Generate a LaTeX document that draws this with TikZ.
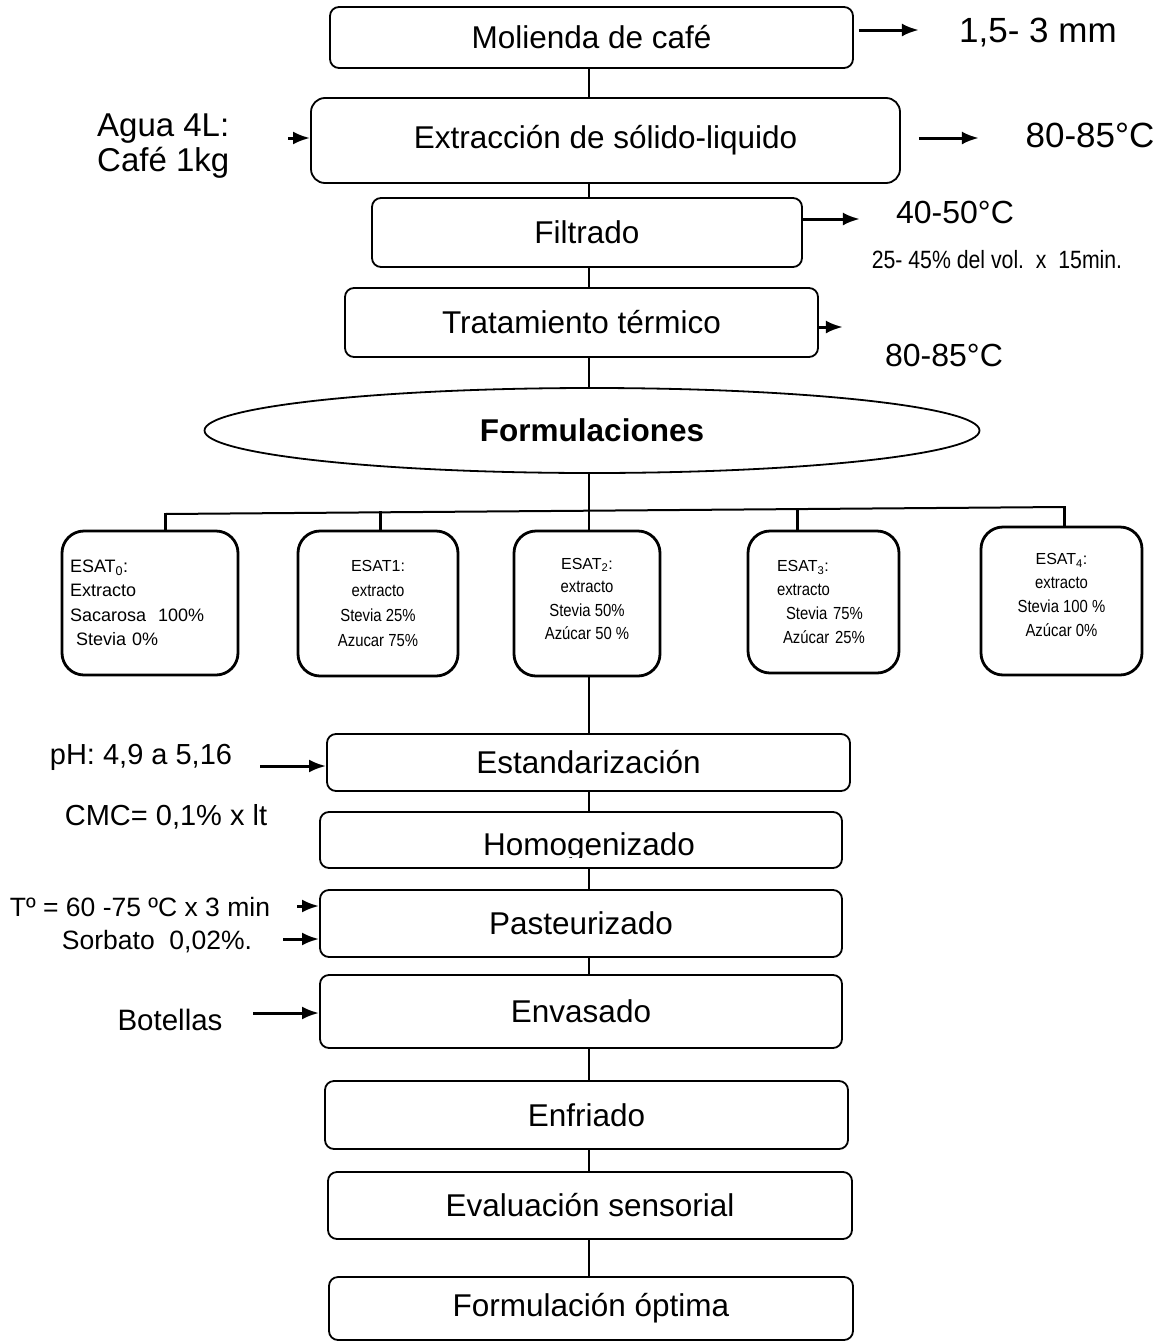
\documentclass[tikz,border=0pt]{standalone}
\usepackage{fontspec}
\setmainfont{Liberation Sans}
\newfontfamily\narrowfont[FakeStretch=0.85]{Liberation Sans}
\usetikzlibrary{shapes.geometric,arrows.meta}
\newcommand\fsz[2]{\fontsize{#1}{#2}\selectfont}
\begin{document}
\begin{tikzpicture}[x=1pt,y=-1pt,
  proc/.style={draw, rounded corners=9pt, line width=1.8pt, inner sep=0pt, font=\fsz{31.5}{36}},
  esat/.style={draw, rounded corners=22pt, line width=2.8pt, inner sep=0pt},
  link/.style={line width=1.2pt},
  drop/.style={line width=3pt},
  arr/.style={-{Latex[length=17pt,width=13pt]}, line width=3pt},
  lbl/.style={inner sep=0pt}]
\useasboundingbox (0,0) rectangle (1175,1344);
\coordinate (sp) at (589,0);

% main process boxes
\node[proc, minimum width=523pt, minimum height=61pt] (mol) at (591.5,37.5) {Molienda de café};
\node[proc, rounded corners=14pt, minimum width=589pt, minimum height=85pt] (ext) at (605.5,140.5) {Extracción de sólido-liquido};
\node[proc, minimum width=430pt, minimum height=69pt] (fil) at (587,232.5) {Filtrado};
\node[proc, minimum width=473pt, minimum height=69pt] (tra) at (581.5,322.5) {Tratamiento térmico};
\node[draw, ellipse, line width=1.8pt, inner sep=0pt, minimum width=775pt, minimum height=85pt, font=\fsz{31.5}{36}\bfseries] (form) at (592,430.5) {Formulaciones};

% formulations
\node[esat, minimum width=176pt, minimum height=144pt, align=left, text width=160pt, font=\fsz{18}{24.5}] (e0) at (150,603)
  {ESAT\textsubscript{0}:\\Extracto\\Sacarosa\ \ 100\%\\\hspace{6pt}Stevia 0\%};
\node[esat, minimum width=160pt, minimum height=145pt, align=center, font=\narrowfont\fsz{17.5}{25}] (e1) at (378,603.5)
  {{\rmfamily\fsz{16}{25}ESAT1:}\\\narrowfont extracto\\\narrowfont Stevia 25\%\\\narrowfont Azucar 75\%};
\node[esat, minimum width=146pt, minimum height=145pt, align=center, font=\narrowfont\fsz{17.5}{23.5}] (e2) at (587,603.5)
  {{\rmfamily\fsz{16}{23.5}ESAT\textsubscript{2}:}\\\narrowfont extracto\\\narrowfont Stevia 50\%\\\narrowfont Azúcar 50 \%\\[-14pt]\mbox{}};
\node[esat, minimum width=151pt, minimum height=142pt, align=left, text width=93pt, font=\narrowfont\fsz{17.5}{24}] (e3) at (823.5,602)
  {{\rmfamily\fsz{16}{24}ESAT\textsubscript{3}:}\\\narrowfont extracto\\\narrowfont\hspace{9pt}Stevia 75\%\\\narrowfont\hspace{6pt}Azúcar 25\%};
\node[esat, minimum width=161pt, minimum height=148pt, align=center, font=\narrowfont\fsz{17.5}{24}] (e4) at (1061.5,601)
  {{\rmfamily\fsz{16}{24}ESAT\textsubscript{4}:}\\\narrowfont extracto\\\narrowfont Stevia 100 \%\\\narrowfont Azúcar 0\%\\[-12pt]\mbox{}};

% lower process boxes
\node[proc, minimum width=523pt, minimum height=57pt] (est) at (588.5,762.5) {Estandarización};
\node[proc, minimum width=522pt, minimum height=56pt] (hom) at (581,840) {};
\begin{scope}
  \clip (300,800) rectangle (860,857.5);
  \node[lbl, anchor=base, font=\fsz{31.5}{36}] (homt) at (589,855) {Homogenizado};
\end{scope}
\node[proc, minimum width=522pt, minimum height=67pt] (pas) at (581,923.5) {Pasteurizado};
\node[proc, minimum width=522pt, minimum height=73pt] (env) at (581,1011.5) {Envasado};
\node[proc, minimum width=523pt, minimum height=68pt] (enf) at (586.5,1115) {Enfriado};
\node[proc, minimum width=524pt, minimum height=67pt] (eva) at (590,1205.5) {Evaluación sensorial};
\node[proc, minimum width=524pt, minimum height=63pt] (opt) at (591,1308.5) {Formulación óptima};

% main spine
\draw[link] (mol.south -| sp) -- (ext.north -| sp);
\draw[link] (ext.south -| sp) -- (fil.north -| sp);
\draw[link] (fil.south -| sp) -- (tra.north -| sp);
\draw[link] (tra.south -| sp) -- (form.north -| sp);
\draw[link] (form.south -| sp) -- (e2.north -| sp);
\draw[link] (e2.south -| sp) -- (est.north -| sp);
\draw[link] (est.south -| sp) -- (hom.north -| sp);
\draw[link] (hom.south -| sp) -- (pas.north -| sp);
\draw[link] (pas.south -| sp) -- (env.north -| sp);
\draw[link] (env.south -| sp) -- (enf.north -| sp);
\draw[link] (enf.south -| sp) -- (eva.north -| sp);
\draw[link] (eva.south -| sp) -- (opt.north -| sp);

% branching bar
\coordinate (bL) at (165,514);
\coordinate (bR) at (1064,507);
\coordinate (b1) at (380,512.3);
\coordinate (b3) at (797,509.1);
\draw[line width=2pt] (bL) -- (bR);
\draw[drop] ([shift={(0,-1)}]bL) -- (e0.north -| bL);
\draw[drop] ([shift={(0,-1)}]b1) -- (e1.north -| b1);
\draw[drop] ([shift={(0,-1)}]b3) -- (e3.north -| b3);
\draw[drop] ([shift={(0,-1)}]bR) -- (e4.north -| bR);

% side labels
\node[lbl, font=\fsz{35}{40}] (l1) at (1038,33) {1,5- 3 mm};
\node[lbl, font=\fsz{33}{35}, align=left, anchor=west] (l2) at (97,146) {Agua 4L:\\Café 1kg};
\node[lbl, font=\fsz{35}{40}] (l3) at (1090,135) {80-85°C};
\node[lbl, font=\fsz{32}{36}] (l4) at (955,212) {40-50°C};
\node[lbl, font=\narrowfont\fsz{25}{30}] (l5) at (997,260) {25- 45\% del vol.\ \ x\ \ 15min.};
\node[lbl, font=\fsz{32}{36}] (l6) at (944,355) {80-85°C};
\node[lbl, font=\fsz{29}{34}] (l7) at (141,757) {pH: 4,9 a 5,16};
\node[lbl, font=\fsz{29}{34}] (l8) at (166,817) {CMC= 0,1\% x lt};
\node[lbl, font=\fsz{26.5}{30}] (l9) at (140,907) {Tº = 60 -75 ºC x 3 min};
\node[lbl, font=\fsz{26.5}{30}] (l10) at (157,942) {Sorbato\ \ 0,02\%.};
\node[lbl, font=\fsz{29.5}{34}] (l11) at (170,1020) {Botellas};

% side arrows
\draw[arr] ([shift={(5,-7.5)}]mol.east) -- ([shift={(65,-7.5)}]mol.east);
\draw[arr] ([shift={(-22,-2.5)}]ext.west) -- ([shift={(0,-2.5)}]ext.west);
\draw[arr] ([shift={(18,-2.5)}]ext.east) -- ([shift={(78,-2.5)}]ext.east);
\draw[arr] ([shift={(0,-13.5)}]fil.east) -- ([shift={(57,-13.5)}]fil.east);
\draw[arr] ([shift={(0,4.5)}]tra.east) -- ([shift={(24,4.5)}]tra.east);
\draw[arr] ([shift={(-66,3.5)}]est.west) -- ([shift={(0,3.5)}]est.west);
\draw[arr] ([shift={(-22,-17.5)}]pas.west) -- ([shift={(0,-17.5)}]pas.west);
\draw[arr] ([shift={(-36,15.5)}]pas.west) -- ([shift={(0,15.5)}]pas.west);
\draw[arr] ([shift={(-66,1.5)}]env.west) -- ([shift={(0,1.5)}]env.west);
\end{tikzpicture}
\end{document}
